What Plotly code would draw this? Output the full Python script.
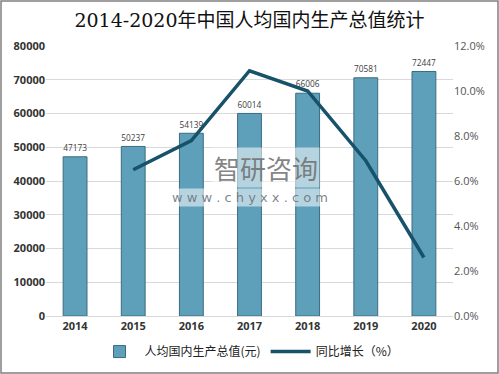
import plotly.graph_objects as go

years = ["2014", "2015", "2016", "2017", "2018", "2019", "2020"]
gdp_per_capita = [47173, 50237, 54139, 60014, 66006, 70581, 72447]
growth_years = ["2015", "2016", "2017", "2018", "2019", "2020"]
growth_pct = [6.5, 7.8, 10.9, 10.0, 6.9, 2.6]
left_ticks = [0, 10000, 20000, 30000, 40000, 50000, 60000, 70000, 80000]
right_ticks = [0, 2, 4, 6, 8, 10, 12]

fig = go.Figure()
fig.add_trace(go.Bar(
    x=years, y=gdp_per_capita, name="人均国内生产总值(元)",
    marker=dict(color="#5e9fba", line=dict(color="#3a6c80", width=1)),
    width=0.41,
    text=[str(v) for v in gdp_per_capita], textposition="outside",
    textfont=dict(size=12, color="#404040", family="Open Sans, Noto Sans CJK SC"),
    cliponaxis=False,
))
fig.add_trace(go.Scatter(
    x=growth_years, y=growth_pct, name="同比增长（%）", yaxis="y2",
    mode="lines", line=dict(color="#18526a", width=3.5),
))

fig.update_layout(
    width=499, height=374,
    margin=dict(l=46, r=46, t=46, b=58, autoexpand=False),
    paper_bgcolor="white", plot_bgcolor="white",
    title=dict(text="2014-2020年中国人均国内生产总值统计", x=0.5, xanchor="center",
               y=0.945, yanchor="middle",
               font=dict(size=19, color="#111111", family="DejaVu Serif, Noto Sans CJK SC")),
    bargap=0.59,
    xaxis=dict(type="category", showgrid=False, showline=True, linecolor="#d9d9d9",
               ticks="", tickfont=dict(size=11, color="#333333", family="Open Sans"),
               tickprefix="<b>", ticksuffix="</b>", automargin=False),
    yaxis=dict(range=[0, 80000], tickvals=left_ticks,
               ticktext=[f"<b>{v}</b>" for v in left_ticks],
               showgrid=True, gridcolor="#d9d9d9", automargin=False,
               zeroline=False, ticks="", tickfont=dict(size=11, color="#333333", family="Open Sans")),
    yaxis2=dict(range=[0, 12], tickvals=right_ticks, overlaying="y", side="right",
                showgrid=False, zeroline=False, ticks="", automargin=False,
                ticktext=[f"{v:.1f}%" for v in right_ticks],
                tickfont=dict(size=11, color="#555555", family="Open Sans")),
    legend=dict(orientation="h", x=0.5, xanchor="center", yref="container", y=0.06,
                yanchor="middle",
                font=dict(size=12, color="#222222", family="Noto Sans CJK SC"),
                itemwidth=40, traceorder="normal"),
    showlegend=True,
)
fig.add_annotation(xref="paper", yref="paper", x=0.54, y=0.55, xanchor="center",
                   text="智研咨询", showarrow=False,
                   font=dict(size=26, color="rgba(110,110,110,0.85)", family="Noto Sans CJK SC"),
                   bgcolor="rgba(255,255,255,0.55)")
fig.add_annotation(xref="paper", yref="paper", x=0.5, y=0.44, xanchor="center",
                   text="w w w . c h y x x . c o m", showarrow=False,
                   font=dict(size=13, color="rgba(100,110,120,0.85)", family="DejaVu Sans"),
                   bgcolor="rgba(255,255,255,0.55)")
fig.add_shape(type="rect", xref="paper", yref="paper",
              x0=-45/407, x1=1+45/407, y0=-57/270, y1=1+45/270,
              line=dict(color="#808080", width=1.5), fillcolor="rgba(0,0,0,0)", layer="below")
fig.write_html("out.html", config={"displayModeBar": False},
               post_script="document.body.style.margin='0';document.body.style.overflow='hidden';")
